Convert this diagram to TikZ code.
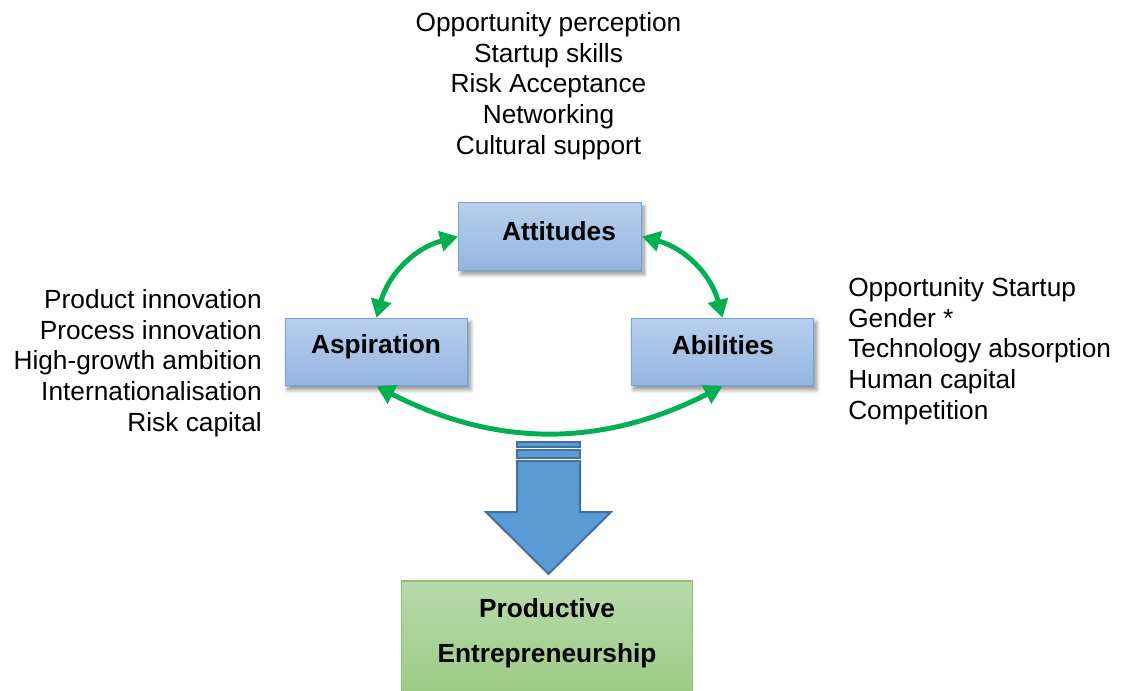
\documentclass[tikz,border=0pt]{standalone}
\usepackage{fontspec}
\setmainfont{Liberation Sans}
\usetikzlibrary{arrows.meta,shadows.blur}

\definecolor{boxtop}{HTML}{B9CFEC}
\definecolor{boxbot}{HTML}{93B5E0}
\definecolor{boxline}{HTML}{6FA3DA}
\definecolor{greentop}{HTML}{B8D9AA}
\definecolor{greenbot}{HTML}{9CCA83}
\definecolor{greenline}{HTML}{8FC274}
\definecolor{cyclegreen}{HTML}{00B050}
\definecolor{arrowfill}{HTML}{5B9BD5}
\definecolor{arrowline}{HTML}{41719C}

\begin{document}
\begin{tikzpicture}[x=0.75pt,y=-0.75pt,
  basefont/.style={font=\fontsize{19.7}{23.1}\selectfont},
  cyclebox/.style={draw=boxline, line width=0.9pt, top color=boxtop, bottom color=boxbot,
    minimum width=137pt, minimum height=50.5pt, inner sep=0pt,
    blur shadow={shadow xshift=2pt, shadow yshift=-3pt, shadow blur radius=3pt,
      shadow blur steps=10, shadow opacity=45}},
  prodbox/.style={draw=greenline, line width=0.9pt, top color=greentop, bottom color=greenbot,
    minimum width=218.5pt, minimum height=90pt, inner sep=0pt},
  boxlabel/.style={basefont, font=\fontsize{19.7}{23.1}\selectfont\bfseries, inner sep=0pt, anchor=base},
  listtext/.style={basefont, inner sep=0pt},
  cycarrow/.style={draw=cyclegreen, line width=3.7pt,
    {Triangle[length=13.5pt,width=15pt]}-{Triangle[length=13.5pt,width=15pt]}},
  blockarrow/.style={fill=arrowfill, draw=arrowline, line width=1.5pt, line join=miter}
]
\useasboundingbox (0,0) rectangle (1124,690);

% the three cycle boxes
\node[cyclebox] (att) at (550,236.5) {};
\node[cyclebox] (asp) at (376.5,352) {};
\node[cyclebox] (abi) at (722.5,352) {};
\node[boxlabel] (attT) at (559,240) {Attitudes};
\node[boxlabel] (aspT) at (376,353) {Aspiration};
\node[boxlabel] (abiT) at (723,354) {Abilities};

% double-headed links between the boxes
\draw[cycarrow] (att.west) to[bend right=30] (asp.north);
\draw[cycarrow] (att.east) to[bend left=30] (abi.north);
\draw[cycarrow] (asp.south) to[bend right=27] (abi.south);

% factor lists
\node[listtext, align=center, anchor=north] (attL) at (548.5,12)
  {Opportunity perception\\Startup skills\\Risk Acceptance\\Networking\\Cultural support};
\node[listtext, align=right, anchor=north east] (aspL) at (262,289)
  {Product innovation\\Process innovation\\High-growth ambition\\Internationalisation\\Risk capital};
\node[listtext, align=left, anchor=north west] (abiL) at (848,277)
  {Opportunity Startup\\Gender *\\Technology absorption\\Human capital\\Competition};

% block arrow down to the outcome
\filldraw[blockarrow] (517,442) rectangle (580,447);
\filldraw[blockarrow] (517,450) rectangle (580,458);
\filldraw[blockarrow] (517,461) -- (580,461) -- (580,512) -- (611,512) -- (548.5,574)
  -- (486,512) -- (517,512) -- cycle;

% outcome box
\node[prodbox] (prod) at (547,641) {};
\node[boxlabel] (prodT1) at (547,617) {Productive};
\node[boxlabel] (prodT2) at (547,662) {Entrepreneurship};
\end{tikzpicture}
\end{document}
